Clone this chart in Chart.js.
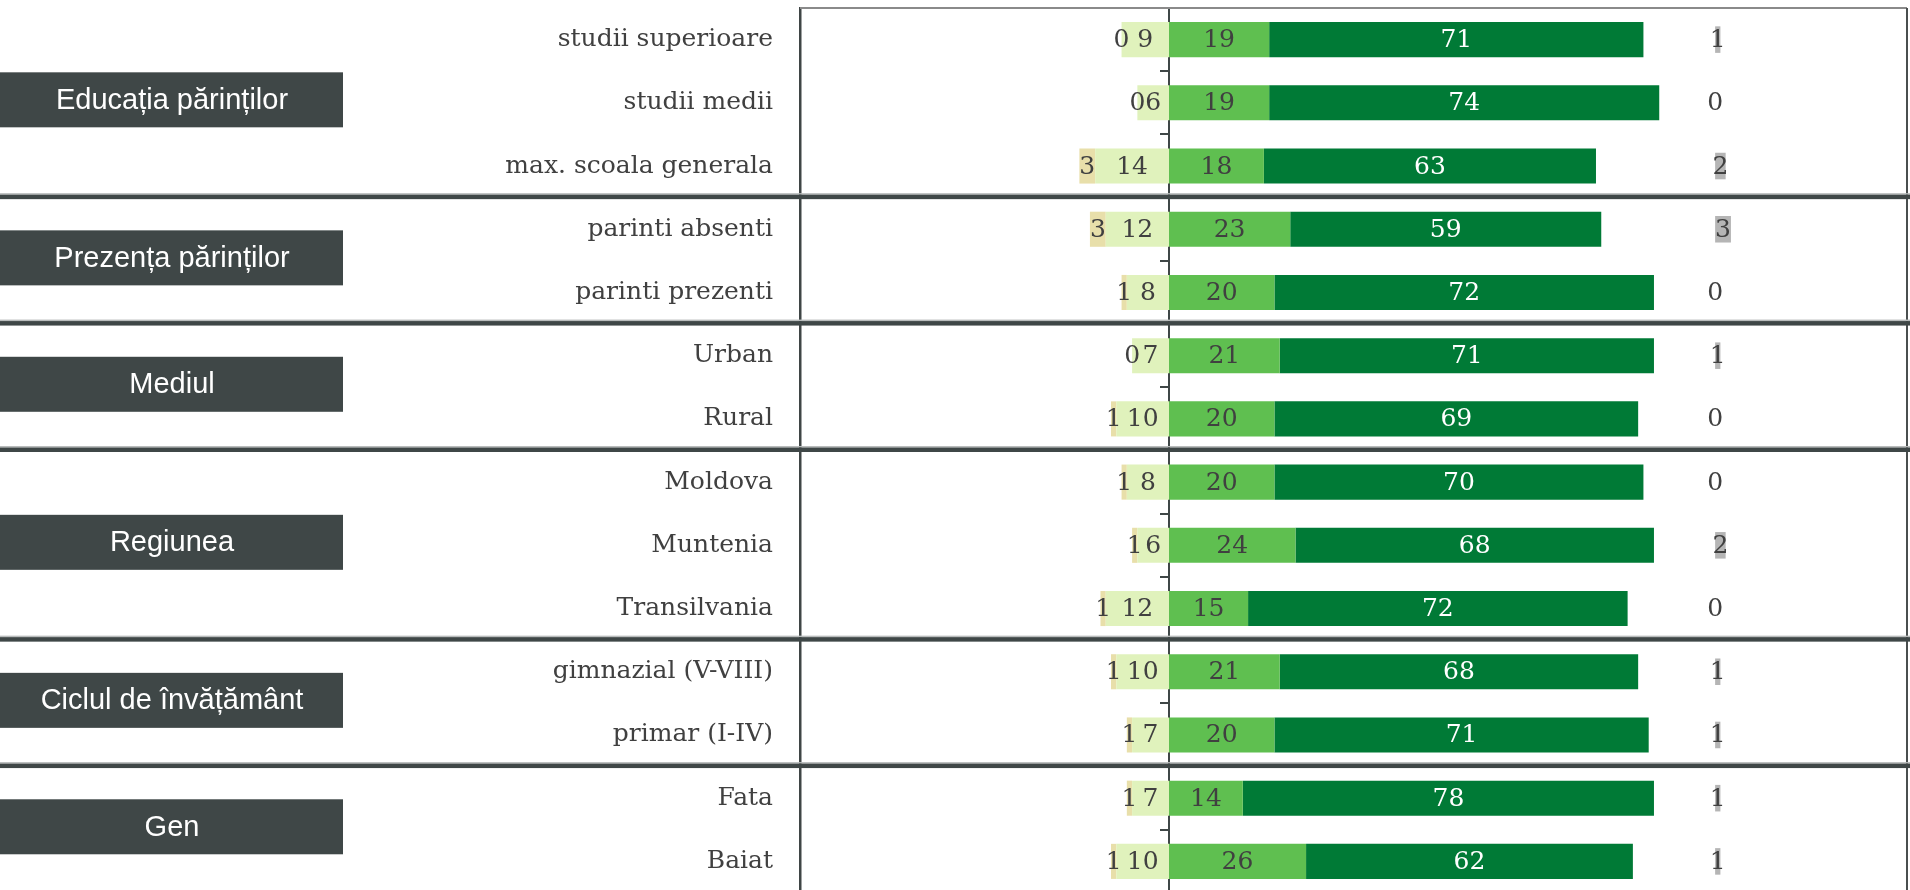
<!DOCTYPE html>
<html>
<head>
<meta charset="utf-8">
<script src="https://cdn.jsdelivr.net/npm/chart.js@4.4.1/dist/chart.umd.min.js"></script>
<style>
  html, body { margin: 0; padding: 0; background: #fff; overflow: hidden; }
  #wrap { width: 1910px; height: 900px; }
</style>
</head>
<body>
<div id="wrap"><canvas id="chart"></canvas></div>
<script>
// rows (top to bottom)
const categories = [
  "studii superioare", "studii medii", "max. scoala generala",
  "parinti absenti", "parinti prezenti",
  "Urban", "Rural",
  "Moldova", "Muntenia", "Transilvania",
  "gimnazial (V-VIII)", "primar (I-IV)",
  "Fata", "Baiat"
];
const groupNames = ["Educația părinților", "Prezența părinților", "Mediul", "Regiunea", "Ciclul de învățământ", "Gen"];
const groupSizes = [3, 2, 2, 3, 2, 2];

// negative side (drawn left of zero)
const negOuter = [0, 0, 3, 3, 1, 0, 1, 1, 1, 1, 1, 1, 1, 1];
const negInner = [9, 6, 14, 12, 8, 7, 10, 8, 6, 12, 10, 7, 7, 10];
// positive side
const posInner = [19, 19, 18, 23, 20, 21, 20, 20, 24, 15, 21, 20, 14, 26];
const posOuter = [71, 74, 63, 59, 72, 71, 69, 70, 68, 72, 68, 71, 78, 62];
// don't know / no answer column
const noAnswer = [1, 0, 2, 3, 0, 1, 0, 0, 2, 0, 1, 1, 1, 1];

const X_MIN = -70, X_MAX = 140;
const NA_START = 103.6;   // where the separate grey column begins

const dark = '#3f4747';
const textGrey = '#404040';

const valueLabels = {
  id: 'valueLabels',
  afterDatasetsDraw(chart) {
    const ctx = chart.ctx;
    ctx.save();
    ctx.font = '25px "DejaVu Serif"';
    ctx.textAlign = 'center';
    ctx.textBaseline = 'middle';
    chart.data.datasets.forEach((ds, i) => {
      chart.getDatasetMeta(i).data.forEach((bar, j) => {
        const p = bar.getProps(['x', 'base', 'y'], true);
        ctx.fillStyle = ds.labelColor;
        ctx.fillText(String(ds.shown[j]), (p.x + p.base) / 2, p.y + 1);
      });
    });
    ctx.restore();
  }
};

const frame = {
  id: 'frame',
  afterDraw(chart) {
    const ctx = chart.ctx;
    const a = chart.chartArea;
    const ys = chart.scales.y;
    const W = chart.width;
    ctx.save();
    // plot border top + right
    ctx.strokeStyle = '#8a8a8a';
    ctx.lineWidth = 2;
    ctx.beginPath(); ctx.moveTo(a.left, a.top); ctx.lineTo(a.right, a.top); ctx.stroke();
    ctx.strokeStyle = '#4a4f4f';
    ctx.beginPath(); ctx.moveTo(a.right, a.top); ctx.lineTo(a.right, a.bottom); ctx.stroke();

    let first = 0;
    groupNames.forEach((name, g) => {
      const last = first + groupSizes[g] - 1;
      const yTop = ys.getPixelForValue(first);
      const yBot = ys.getPixelForValue(last);
      // group box
      const cy = (yTop + yBot) / 2 - 3;
      ctx.fillStyle = dark;
      ctx.fillRect(0, cy - 27.5, 343, 55);
      ctx.fillStyle = '#ffffff';
      ctx.font = '29px "Liberation Sans", Arial, sans-serif';
      ctx.textAlign = 'center';
      ctx.textBaseline = 'middle';
      ctx.fillText(name, 172, cy + 1);
      // separator under the group
      if (g < groupNames.length - 1) {
        const sy = (yBot + ys.getPixelForValue(last + 1)) / 2;
        ctx.fillStyle = '#b9bcbc';
        ctx.fillRect(0, sy - 4.5, W, 1.5);
        ctx.fillStyle = dark;
        ctx.fillRect(0, sy - 3, W, 4.5);
      }
      first = last + 1;
    });
    ctx.restore();
  }
};

const common = { stack: 'main', grouped: false, categoryPercentage: 1, barPercentage: 0.555, borderWidth: 0 };

new Chart(document.getElementById('chart'), {
  type: 'bar',
  data: {
    labels: categories,
    datasets: [
      { ...common, label: 'negInner', data: negInner.map(v => -v), shown: negInner,
        backgroundColor: '#e0f2bc', labelColor: textGrey },
      { ...common, label: 'negOuter', data: negOuter.map(v => -v), shown: negOuter,
        backgroundColor: '#e8dfaa', labelColor: textGrey },
      { ...common, label: 'posInner', data: posInner, shown: posInner,
        backgroundColor: '#5fbf50', labelColor: textGrey },
      { ...common, label: 'posOuter', data: posOuter, shown: posOuter,
        backgroundColor: '#007a36', labelColor: '#ffffff' },
      { ...common, stack: 'na', barPercentage: 0.42, label: 'noAnswer',
        data: noAnswer.map(v => [NA_START, NA_START + v]), shown: noAnswer,
        backgroundColor: '#b5b5b5', labelColor: textGrey }
    ]
  },
  options: {
    indexAxis: 'y',
    responsive: true,
    maintainAspectRatio: false,
    animation: false,
    layout: { padding: { top: 8, right: 3, bottom: 7, left: 0 } },
    plugins: { legend: { display: false }, tooltip: { enabled: false } },
    scales: {
      x: { stacked: true, min: X_MIN, max: X_MAX, display: false },
      y: {
        stacked: true,
        offset: true,
        grid: { display: false, drawTicks: false },
        border: { display: true, color: '#3f4545', width: 2.5 },
        ticks: { color: textGrey, font: { family: 'DejaVu Serif', size: 25 }, padding: 27, autoSkip: false },
        afterFit(s) { s.width = 800; s.paddingTop = 0; s.paddingBottom = 0; }
      },
      y2: {
        type: 'category',
        axis: 'y',
        position: { x: 0 },
        offset: true,
        grid: { offset: true, drawOnChartArea: false, drawTicks: true, tickLength: 8, color: dark, lineWidth: 2 },
        border: { display: true, color: dark, width: 2 },
        ticks: { display: false, padding: 0 },
        afterFit(s) { s.paddingTop = 0; s.paddingBottom = 0; }
      }
    }
  },
  plugins: [valueLabels, frame]
});
</script>
</body>
</html>
